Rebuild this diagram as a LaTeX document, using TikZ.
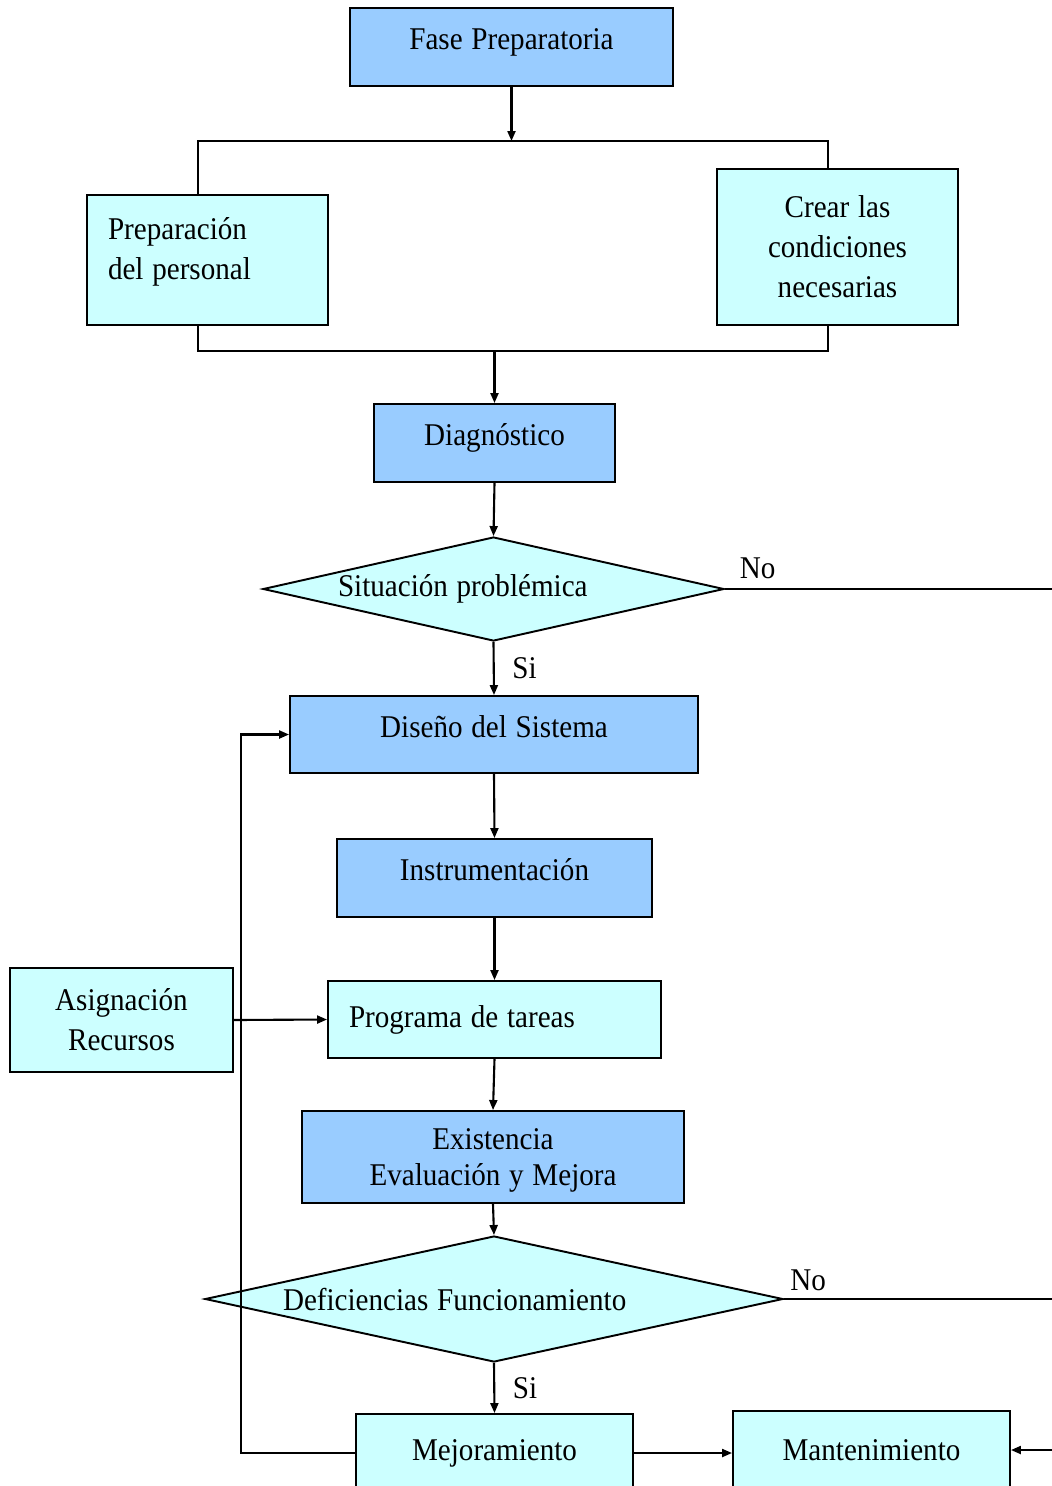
\documentclass[tikz,border=0pt]{standalone}
\usepackage{fontspec}
\setmainfont[FakeStretch=0.92, WordSpace=1.2]{Liberation Serif}
\usetikzlibrary{arrows.meta, positioning, calc, shapes.geometric}
\definecolor{PhaseBlue}{HTML}{99CCFF}
\definecolor{StepCyan}{HTML}{CCFFFF}

\begin{document}
\begin{tikzpicture}[
        font=\fontsize{18}{22.8}\selectfont,
        box/.style={draw, line width=1.1pt, minimum height=1.56cm, align=center, inner sep=0pt},
        fase/.style={box, fill=PhaseBlue},
        paso/.style={box, fill=StepCyan},
        one/.style={text height=0.45cm, text depth=0.35cm},
        dec/.style={draw, line width=1.1pt, diamond, fill=StepCyan, inner sep=0pt, align=flush left},
        a/.style={-{Triangle[length=2mm, width=1.6mm]}, line width=1.2pt},
        ln/.style={line width=1.2pt},
        lbl/.style={inner sep=2pt},
      ]
        \useasboundingbox (0,0) rectangle (21.04,-29.72);
        \clip (0,0) rectangle (21.04,-29.72);
        % fase preparatoria y sus dos ramas
        \node[fase, one, minimum width=6.46cm] (fp) at (10.23,-0.94) {Fase Preparatoria};
        \node[paso, minimum width=4.82cm, minimum height=2.6cm, text width=3.98cm, text depth=1.26cm, align=flush left] (prep) at (4.15,-5.2) {Preparación\\del personal};
        \node[paso, minimum width=4.82cm, minimum height=3.12cm] (crear) at (16.75,-4.94) {Crear las\\condiciones\\necesarias};
        \coordinate (splitL) at (3.96,-2.82);
        \coordinate (splitR) at (16.56,-2.82);
        \draw[a] (fp.south) -- (fp.south |- splitL);
        \draw[ln] (prep.north -| splitL) -- (splitL) -- (splitR) -- (crear.north -| splitR);
        \coordinate (joinL) at (3.96,-7.02);
        \coordinate (joinR) at (16.56,-7.02);
        \draw[ln] (prep.south -| joinL) -- (joinL) -- (joinR) -- (crear.south -| joinR);
        % diagnostico
        \node[fase, one, minimum width=4.82cm] (diag) at (9.89,-8.86) {Diagnóstico};
        \draw[a] (diag.north |- joinL) -- (diag.north);
        \node[dec, minimum width=9.22cm, minimum height=2.08cm, aspect=4.43, text width=6.22cm] (sit) at (9.87,-11.78) {Situación problémica};
        \draw[a] (diag.south) -- (sit.north);
        \coordinate (noA) at (21.04,-11.78);
        \draw[ln] (sit.east) -- node[lbl, pos=0.1, above=3pt]{No} (noA);
        % diseno e implantacion
        \node[fase, one, minimum width=8.16cm, minimum height=1.54cm] (dis) at (9.88,-14.69) {Diseño del Sistema};
        \draw[a] (sit.south) -- node[lbl, right=8pt]{Si} (dis.north);
        \node[fase, one, minimum width=6.3cm] (instr) at (9.89,-17.56) {Instrumentación};
        \draw[a] (dis.south) -- (instr.north);
        \node[paso, minimum width=4.46cm, minimum height=2.08cm] (asig) at (2.43,-20.4) {Asignación\\Recursos};
        \node[paso, minimum width=6.66cm, minimum height=1.54cm, text width=5.82cm, align=flush left] (prog) at (9.89,-20.39) {Programa de tareas};
        \draw[a] (instr.south) -- (prog.north);
        \draw[a] (asig.east) -- (prog.west);
        \node[fase, minimum width=7.64cm, minimum height=1.84cm, text depth=0cm, font=\fontsize{18}{20.5}\selectfont] (exist) at (9.86,-23.14) {Existencia\\Evaluación y Mejora};
        \draw[a] (prog.south) -- (exist.north);
        \node[dec, minimum width=11.56cm, minimum height=2.52cm, aspect=4.59, text width=8.44cm, text height=0.45cm, text depth=0cm] (def) at (9.88,-25.98) {Deficiencias Funcionamiento};
        \draw[a] (exist.south) -- (def.north);
        \coordinate (noB) at (21.04,-25.98);
        \draw[ln] (def.east) -- node[lbl, pos=0.09, above=2pt]{No} (noB);
        % mejoramiento y mantenimiento
        \node[paso, minimum width=5.54cm] (mejor) at (9.89,-29.06) {Mejoramiento};
        \draw[a] (def.south) -- node[lbl, right=8pt]{Si} (mejor.north);
        \node[paso, minimum width=5.54cm] (mant) at (17.43,-29.0) {Mantenimiento};
        \draw[a] (mejor.east) -- (mejor.east -| mant.west);
        \coordinate (noC) at (21.04,-29.0);
        \draw[a] (noC) -- (mant.east);
        \draw[a] (mejor.west) -- ++(-2.28,0) |- (dis.west);
      \end{tikzpicture}
\end{document}
